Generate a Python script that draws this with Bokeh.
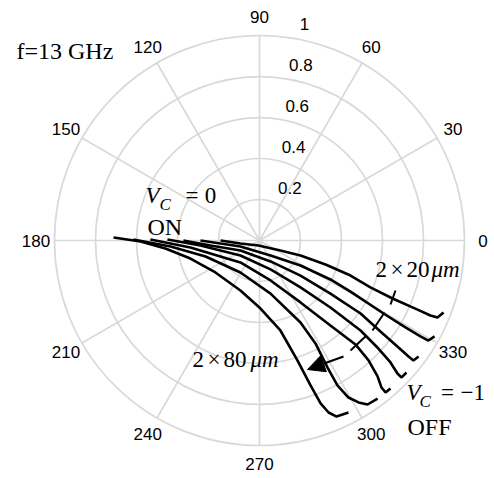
import math
from bokeh.plotting import figure
from bokeh.models import Range1d, Arrow, NormalHead, Label
from bokeh.core.properties import value
from bokeh.embed import file_html
from bokeh.resources import INLINE

# ---------------- data ----------------
r_ticks = [0.2, 0.4, 0.6, 0.8, 1.0]
r_labels = ["0.2", "0.4", "0.6", "0.8", "1"]
ang_ticks = [0, 30, 60, 90, 120, 150, 180, 210, 240, 270, 300, 330]
ang_labels = ["0", "30", "60", "90", "120", "150", "180", "210", "240", "270", "300", "330"]

# reflection coefficient (real, imag) along Vc sweep, one curve per device width
w20_re = [-0.190, -0.093, -0.005, 0.102, 0.200, 0.322, 0.444, 0.541, 0.649, 0.771, 0.834, 0.868, 0.898]
w20_im = [0.000, -0.015, -0.024, -0.049, -0.073, -0.117, -0.171, -0.229, -0.283, -0.337, -0.366, -0.376, -0.351]

w30_re = [-0.288, -0.190, -0.093, 0.054, 0.200, 0.346, 0.444, 0.605, 0.712, 0.785, 0.824, 0.854]
w30_im = [0.000, -0.015, -0.029, -0.073, -0.122, -0.190, -0.249, -0.356, -0.424, -0.468, -0.488, -0.468]

w40_re = [-0.371, -0.239, -0.093, 0.054, 0.200, 0.346, 0.493, 0.590, 0.678, 0.727, 0.751, 0.776]
w40_im = [0.000, -0.024, -0.049, -0.102, -0.171, -0.259, -0.356, -0.444, -0.522, -0.566, -0.585, -0.566]

w50_re = [-0.449, -0.288, -0.093, 0.054, 0.200, 0.346, 0.493, 0.580, 0.639, 0.673, 0.693, 0.717]
w50_im = [0.005, -0.024, -0.073, -0.141, -0.229, -0.327, -0.439, -0.527, -0.595, -0.649, -0.668, -0.644]

w60_re = [-0.532, -0.337, -0.093, 0.054, 0.200, 0.346, 0.468, 0.532, 0.576, 0.595, 0.615, 0.639]
w60_im = [0.005, -0.034, -0.107, -0.195, -0.302, -0.415, -0.507, -0.585, -0.663, -0.717, -0.741, -0.722]

w70_re = [-0.615, -0.434, -0.263, -0.093, 0.054, 0.200, 0.273, 0.332, 0.380, 0.434, 0.483, 0.527, 0.576]
w70_im = [0.005, -0.029, -0.078, -0.156, -0.259, -0.400, -0.502, -0.620, -0.707, -0.766, -0.790, -0.800, -0.771]

w80_re = [-0.712, -0.580, -0.459, -0.337, -0.215, -0.093, 0.005, 0.102, 0.185, 0.249, 0.298, 0.337, 0.376, 0.434]
w80_im = [0.015, -0.005, -0.039, -0.088, -0.156, -0.244, -0.332, -0.439, -0.585, -0.707, -0.795, -0.839, -0.859, -0.839]

curves = [(w20_re, w20_im), (w30_re, w30_im), (w40_re, w40_im), (w50_re, w50_im),
          (w60_re, w60_im), (w70_re, w70_im), (w80_re, w80_im)]

# ---------------- layout ----------------
W, H = 494, 478
S = 205.0            # pixels per unit radius
CX, CY = 259.0, 240.0
TXT_DY = -8          # baseline correction for labels


def P(xp, yp):
    """page pixel -> data coordinates (for annotation placement)"""
    return (xp - CX) / S, (CY - yp) / S


GRID = "#d9d9d9"
SERIF = "Liberation Serif"
SANS = "Liberation Sans"

p = figure(width=W, height=H,
           x_range=Range1d(-CX / S, (W - CX) / S),
           y_range=Range1d((CY - H) / S, CY / S),
           x_axis_type=None, y_axis_type=None,
           output_backend="svg", toolbar_location=None, min_border=0)
p.grid.visible = False
p.outline_line_color = None
p.background_fill_color = "white"
p.border_fill_color = "white"

# polar grid
p.circle(x=[0] * len(r_ticks), y=[0] * len(r_ticks), radius=r_ticks,
         fill_color=None, line_color=GRID, line_width=1.7)
rad = [math.radians(a) for a in ang_ticks]
p.segment(x0=[0] * len(rad), y0=[0] * len(rad),
          x1=[math.cos(a) for a in rad], y1=[math.sin(a) for a in rad],
          line_color=GRID, line_width=1.7)

# angle labels
p.text(x=[1.09 * math.cos(a) for a in rad], y=[1.09 * math.sin(a) for a in rad],
       text=ang_labels, text_align="center", text_baseline="middle",
       text_font=value(SANS), text_font_size="17px", text_color="black")
# radial labels
p.text(x=[0.13 + 0.09 * r for r in r_ticks], y=[r + 0.058 for r in r_ticks],
       text=r_labels, text_align="center", text_baseline="middle",
       text_font=value(SANS), text_font_size="17px", text_color="black")

# curves
for re_, im_ in curves:
    p.line(re_, im_, line_color="black", line_width=2.6)

# annotation ladder / arrow
segs = [((395, 290), (390, 304)), ((384, 312), (372, 330)), ((366, 335), (350, 350))]
for a, b in segs:
    (xa, ya), (xb, yb) = P(*a), P(*b)
    p.segment(x0=[xa], y0=[ya], x1=[xb], y1=[yb], line_color="black", line_width=2)
xa, ya = P(343, 356)
xb, yb = P(307, 369)
p.add_layout(Arrow(x_start=xa, y_start=ya, x_end=xb, y_end=yb, line_width=2,
                   line_color="black",
                   end=NormalHead(size=17, fill_color="black", line_color="black", line_width=1)))


def lab(txt, xp, yp, size, style="normal", align="left", font=SERIF):
    x, y = P(xp, yp + TXT_DY)
    p.add_layout(Label(x=x, y=y, text=txt, text_font=font, text_font_size=f"{size}px",
                       text_font_style=style, text_align=align,
                       text_baseline="alphabetic", text_color="black"))


lab("f=13 GHz", 16, 58, 24)
# V_C = 0 / ON
lab("V", 145, 203, 23, "italic")
lab("C", 159, 212, 17, "italic")
lab("=", 191.5, 203, 23, align="center")
lab("0", 210, 203, 23, align="center")
lab("ON", 147, 234, 24)
# 2x20 um
lab("2", 375, 277, 23)
lab("\u00d7", 396.5, 277, 23, align="center")
lab("20", 406, 277, 23)
lab("\u03bcm", 431, 277, 23, "italic")
# 2x80 um
lab("2", 192, 367, 23)
lab("\u00d7", 213.5, 367, 23, align="center")
lab("80", 223, 367, 23)
lab("\u03bcm", 250, 367, 23, "italic")
# V_C = -1 / OFF
lab("V", 406, 400, 23, "italic")
lab("C", 419, 409, 17, "italic")
lab("=", 447, 400, 23, align="center")
lab("\u22121", 460, 400, 23)
lab("OFF", 407, 434, 24)

open("out.html", "w").write(file_html(p, INLINE))
